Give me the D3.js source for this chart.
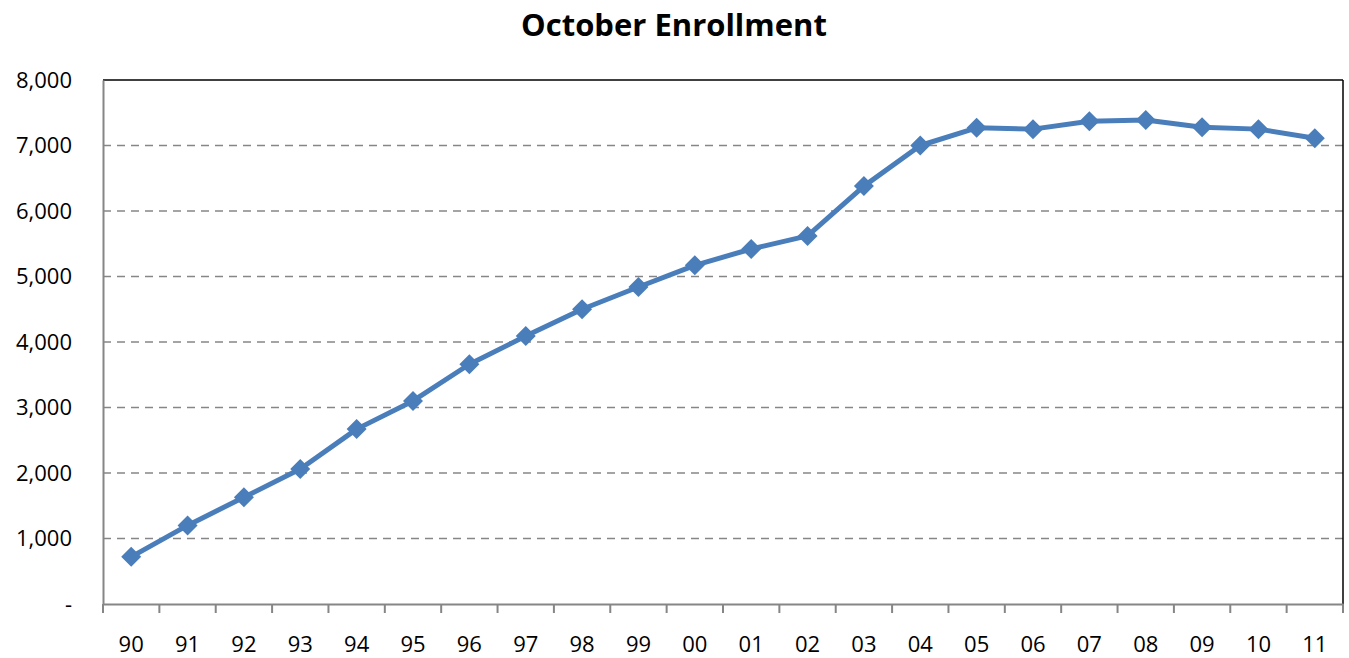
<!DOCTYPE html>
<html><head><meta charset="utf-8">
<script src="https://cdn.jsdelivr.net/npm/d3@7"></script>
<style>body{margin:0;background:#fff;} svg{display:block;font-family:"Open Sans","Noto Sans",sans-serif;}</style>
</head><body>
<svg id="chart" width="1349" height="658"></svg>
<script>
const title = "October Enrollment";
const categories = ["90","91","92","93","94","95","96","97","98","99","00","01","02","03","04","05","06","07","08","09","10","11"];
const enrollment = [720,1200,1630,2060,2670,3100,3660,4090,4500,4840,5170,5420,5620,6380,7000,7270,7250,7370,7390,7280,7250,7110];
const yTicks = [0,1000,2000,3000,4000,5000,6000,7000,8000];

const svg = d3.select("#chart");
const m = {left:103, right:1343, top:80, bottom:604};
const x = d3.scaleBand().domain(categories).range([m.left, m.right]);
const y = d3.scaleLinear().domain([0,8000]).range([m.bottom, m.top]);
const fmt = v => v === 0 ? "-" : d3.format(",")(v);

svg.append("text").attr("x", 674).attr("y", 36).attr("text-anchor","middle")
  .attr("font-size", 31).attr("font-weight","bold").attr("fill","#000").text(title);

// gridlines
svg.append("g").selectAll("line").data(yTicks.filter(t => t>0 && t<8000)).join("line")
  .attr("x1", m.left).attr("x2", m.right).attr("y1", d=>y(d)).attr("y2", d=>y(d))
  .attr("stroke","#868686").attr("stroke-width",1.5).attr("stroke-dasharray","8,6");

// plot border top/right
svg.append("line").attr("x1",m.left).attr("x2",m.right).attr("y1",m.top).attr("y2",m.top).attr("stroke","#000").attr("stroke-width",1.5);
svg.append("line").attr("x1",m.right).attr("x2",m.right).attr("y1",m.top).attr("y2",m.bottom).attr("stroke","#000").attr("stroke-width",1.5);

// y axis
const yAxis = svg.append("g").attr("transform",`translate(${m.left},0)`)
  .call(d3.axisLeft(y).tickValues(yTicks).tickFormat(fmt).tickSize(0).tickPadding(31));
yAxis.select(".domain").attr("stroke","#868686").attr("stroke-width",2);
yAxis.selectAll("text").attr("font-size",22).attr("fill","#000").attr("font-family","'Open Sans',sans-serif");

// x axis
const xAxis = svg.append("g").attr("transform",`translate(0,${m.bottom})`)
  .call(d3.axisBottom(x).tickSize(0).tickPadding(32));
xAxis.select(".domain").attr("stroke","#868686").attr("stroke-width",2);
xAxis.selectAll("text").attr("font-size",22).attr("fill","#000").attr("font-family","'Open Sans',sans-serif");
// boundary ticks
const bounds = categories.map(c => x(c)).concat([m.right]);
svg.append("g").selectAll("line").data(bounds).join("line")
  .attr("x1",d=>d).attr("x2",d=>d).attr("y1",m.bottom).attr("y2",m.bottom+9)
  .attr("stroke","#868686").attr("stroke-width",2);

// line
const cx = c => x(c) + x.bandwidth()/2;
const line = d3.line().x((d,i)=>cx(categories[i])).y(d=>y(d));
svg.append("path").datum(enrollment).attr("d",line).attr("fill","none")
  .attr("stroke","#4a7ebb").attr("stroke-width",5).attr("stroke-linejoin","round");
svg.append("g").selectAll("path").data(enrollment).join("path")
  .attr("transform",(d,i)=>`translate(${cx(categories[i])},${y(d)})`)
  .attr("d","M0,-10L10,0L0,10L-10,0Z").attr("fill","#4a7ebb");
</script>
</body></html>
